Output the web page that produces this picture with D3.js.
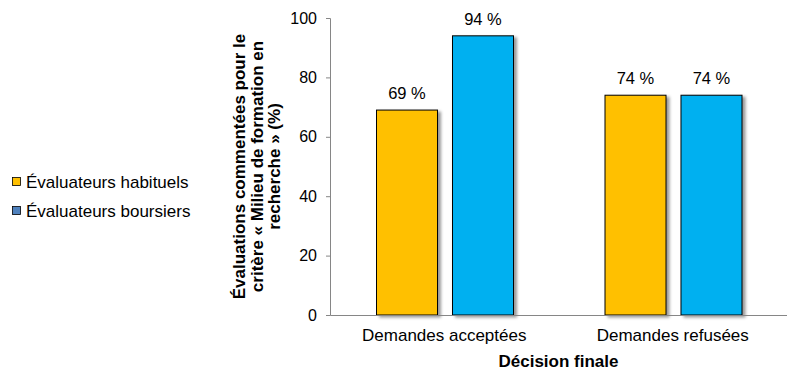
<!DOCTYPE html>
<html lang="fr">
<head>
<meta charset="UTF-8">
<title>Décision finale</title>
<script src="https://cdn.jsdelivr.net/npm/d3@7"></script>
<style>
  body { margin: 0; background: #fff; }
  svg text { font-family: "Liberation Sans", Arial, sans-serif; fill: #000; }
</style>
</head>
<body>
<div id="chart"></div>
<script>
  // donnees
  var categories = ["Demandes acceptées", "Demandes refusées"];
  var series = ["Évaluateurs habituels", "Évaluateurs boursiers"];
  var habituels = [69, 74];
  var boursiers = [94, 74];
  var yTicks = [0, 20, 40, 60, 80, 100];
  var couleurs = ["#FFC000", "#00B0F0"];
  var couleursLegende = ["#FFC000", "#4F81BD"];

  var largeur = 787, hauteur = 374;
  var margin = {top: 18, right: 0, bottom: 59, left: 330};
  var largeurVis = largeur - margin.left - margin.right,
      hauteurVis = hauteur - margin.top - margin.bottom;

  var svg = d3.select('#chart').append('svg')
      .attr('width', largeur)
      .attr('height', hauteur);

  var defs = svg.append('defs');
  var f = defs.append('filter').attr('id', 'ombre')
      .attr('x', '-10%').attr('y', '-10%').attr('width', '130%').attr('height', '130%');
  f.append('feDropShadow').attr('dx', 3).attr('dy', 2).attr('stdDeviation', 1.5)
      .attr('flood-color', '#000').attr('flood-opacity', 0.4);

  var g = svg.append('g')
      .attr('transform', 'translate(' + margin.left + ',' + margin.top + ')');

  var x = d3.scaleBand().domain(categories).range([0, largeurVis]);
  var xs = d3.scaleBand().domain(series).range([46.5, x.bandwidth() - 45]).paddingInner(0.197);
  var y = d3.scaleLinear().domain([0, 100]).range([hauteurVis, 0]);

  var dados = [];
  categories.forEach(function(c, i) {
    dados.push({cat: c, serie: series[0], v: habituels[i], k: 0});
    dados.push({cat: c, serie: series[1], v: boursiers[i], k: 1});
  });

  g.selectAll('rect.barre')
    .data(dados)
    .enter()
    .append('rect')
      .attr('class', 'barre')
      .attr('x', d => x(d.cat) + xs(d.serie))
      .attr('y', d => y(d.v))
      .attr('width', xs.bandwidth())
      .attr('height', d => hauteurVis - y(d.v))
      .attr('fill', d => couleurs[d.k])
      .attr('stroke', '#000')
      .attr('stroke-width', 1)
      .attr('filter', 'url(#ombre)');

  g.selectAll('text.val')
    .data(dados)
    .enter()
    .append('text')
      .attr('class', 'val')
      .attr('x', d => x(d.cat) + xs(d.serie) + xs.bandwidth() / 2)
      .attr('y', d => y(d.v) - 11)
      .attr('text-anchor', 'middle')
      .style('font-size', '16.5px')
      .text(d => d.v + ' %');

  // axe y
  var axeY = g.append('g')
      .call(d3.axisLeft(y).tickValues(yTicks).tickSize(4).tickPadding(9));
  axeY.select('.domain').attr('stroke', '#868686');
  axeY.selectAll('.tick line').attr('stroke', '#868686');
  axeY.selectAll('.tick text').style('font-size', '16px').attr('font-family', null);

  // axe x
  var axeX = g.append('g')
      .attr('transform', 'translate(0,' + hauteurVis + ')')
      .call(d3.axisBottom(x).tickSize(0).tickPadding(14));
  axeX.select('.domain').attr('stroke', '#868686');
  axeX.selectAll('.tick text').style('font-size', '17px').attr('font-family', null);

  g.append('text')
    .attr('x', largeurVis / 2)
    .attr('y', hauteurVis + 52)
    .attr('text-anchor', 'middle')
    .style('font-size', '17px')
    .style('font-weight', 'bold')
    .text('Décision finale');

  var titreY = ["Évaluations commentées pour le", "critère « Milieu de formation en", "recherche » (%)"];
  var ty = svg.append('text')
    .attr('transform', 'translate(239,' + (margin.top + hauteurVis / 2) + ') rotate(-90)')
    .attr('text-anchor', 'middle')
    .style('font-size', '17px')
    .style('font-weight', 'bold');
  titreY.forEach(function(t, i) {
    ty.append('tspan').attr('x', 0).attr('dy', i == 0 ? 6 : 17.5).text(t);
  });

  // legende
  var leg = svg.append('g');
  series.forEach(function(s, i) {
    leg.append('rect')
      .attr('x', 12.5).attr('y', 177.5 + i * 29)
      .attr('width', 8).attr('height', 8)
      .attr('fill', couleursLegende[i])
      .attr('stroke', '#000').attr('stroke-width', 0.8);
    leg.append('text')
      .attr('x', 26).attr('y', 188 + i * 28.5)
      .style('font-size', '17px')
      .text(s);
  });
</script>
</body>
</html>
